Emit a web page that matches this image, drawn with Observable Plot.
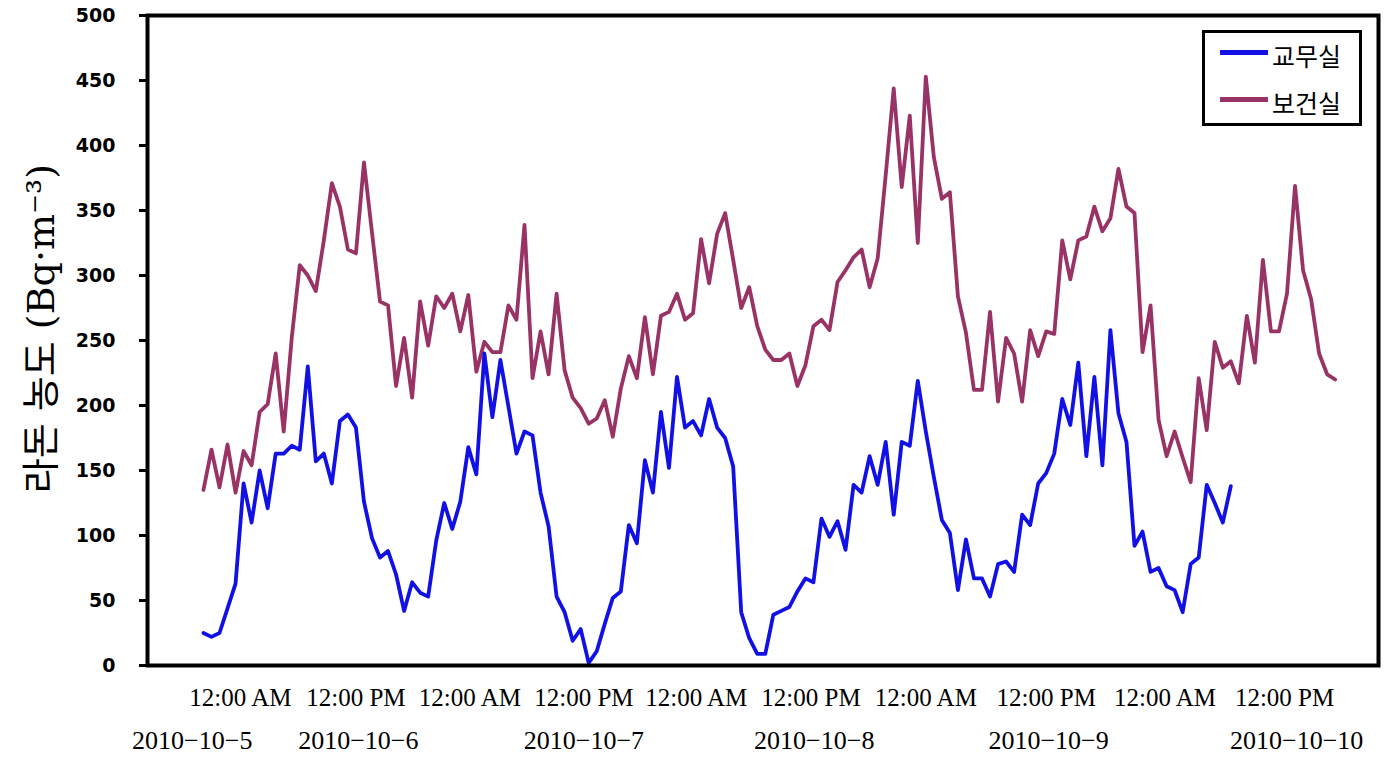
<!DOCTYPE html>
<html><head><meta charset="utf-8">
<script src="https://cdn.jsdelivr.net/npm/d3@7"></script>
<script src="https://cdn.jsdelivr.net/npm/@observablehq/plot@0.6"></script>
<style>
html,body{margin:0;padding:0;background:#fff;}
#wrap{position:relative;width:1396px;height:763px;overflow:hidden;}
#legend{position:absolute;left:1202px;top:30px;width:154px;height:90px;border:3.5px solid #000;background:#fff;}
.lg-line{position:absolute;left:15px;width:48px;height:4.5px;}
.lg-text{position:absolute;left:67px;height:30px;line-height:30px;font-family:"Noto Sans CJK KR",sans-serif;font-size:25px;color:#000;}
svg g[aria-label="y-axis tick label"]{font-weight:bold;}
</style></head><body>
<div id="wrap"><div id="chart"></div><div id="legend"></div></div>
<script>
const seriesNames = ["교무실", "보건실"];
const seriesColors = ["#1111E6", "#993366"];

// 교무실 (hourly readings, Bq·m-3)
const office = [25,22,25,44,63,140,110,150,121,163,163,169,166,230,157,163,140,188,193,183,
126,98,83,88,70,42,64,56,53,96,125,105,126,168,147,240,191,235,199,163,
180,177,133,107,53,41,19,28,2,11,32,52,57,108,94,158,133,195,152,222,
183,188,177,205,183,175,153,41,21,9,9,39,42,45,57,67,64,113,99,111,
89,139,133,161,139,172,116,172,169,219,180,145,112,102,58,97,67,67,53,78,
80,72,116,108,140,148,163,205,185,233,161,222,154,258,194,172,92,103,72,75,
61,58,41,78,83,139,125,110,138];

// 보건실
const health = [135,166,137,170,133,165,154,195,201,240,180,252,308,300,288,327,371,353,320,317,
387,333,280,277,215,252,206,280,246,284,275,286,257,285,226,249,241,241,277,266,
339,221,257,224,286,227,206,198,186,190,204,176,213,238,221,268,224,269,272,286,
266,271,328,294,332,348,312,275,291,261,243,235,235,240,215,231,261,266,258,295,
304,314,320,291,313,377,444,368,423,325,453,391,359,364,284,256,212,212,272,203,
252,240,203,258,238,257,255,327,297,327,330,353,334,344,382,353,348,241,277,189,
161,180,160,141,221,181,249,229,234,217,269,233,312,257,257,286,369,304,282,240,
224,220];

const timeTickLabels = ["12:00 AM","12:00 PM","12:00 AM","12:00 PM","12:00 AM","12:00 PM","12:00 AM","12:00 PM","12:00 AM","12:00 PM"];
const timeTickAt = [4.6, 19.0, 33.2, 47.4, 61.4, 75.7, 90.0, 105.0, 119.8, 134.7];
const dateTickLabels = ["2010−10−5","2010−10−6","2010−10−7","2010−10−8","2010−10−9","2010−10−10"];
const dateTickAt = [-1.4, 19.3, 47.4, 76.1, 105.3, 136.2];
const yTicks = [0,50,100,150,200,250,300,350,400,450,500];
const yTitle = "라돈 농도 (Bq·m⁻³)";

const rows = [];
health.forEach((v, i) => rows.push({series: seriesNames[1], t: i, v}));
office.forEach((v, i) => rows.push({series: seriesNames[0], t: i, v}));
const timeTicks = timeTickLabels.map((label, i) => ({label, at: timeTickAt[i]}));
const dateTicks = dateTickLabels.map((label, i) => ({label, at: dateTickAt[i]}));

const chart = Plot.plot({
  width: 1396, height: 763,
  marginLeft: 147, marginRight: 18, marginTop: 15, marginBottom: 98,
  x: {type: "linear", domain: [-6.97, 146.4], axis: null},
  y: {domain: [0, 500], axis: null},
  color: {domain: seriesNames, range: seriesColors},
  marks: [
    Plot.line(rows, {x: "t", y: "v", z: "series", stroke: "series", strokeWidth: 3.8, strokeLinejoin: "round", strokeLinecap: "round"}),
    Plot.frame({stroke: "#000", strokeWidth: 4}),
    Plot.axisY(yTicks, {anchor: "left", label: null, tickSize: 8, tickPadding: 24, strokeWidth: 3, fontSize: 19, fontWeight: "bold", fontFamily: "DejaVu Sans", fill: "#000", stroke: "#000", tickFormat: d => String(d)}),
    Plot.text(timeTicks, {x: "at", text: "label", frameAnchor: "bottom", dy: 32, fontSize: 25, fontFamily: "Liberation Serif", fill: "#000", lineAnchor: "middle"}),
    Plot.text(dateTicks, {x: "at", text: "label", frameAnchor: "bottom", dy: 75, fontSize: 26, fontFamily: "Liberation Serif", fill: "#000", lineAnchor: "middle"}),
    Plot.text([yTitle], {text: d => d, frameAnchor: "left", rotate: -90, dx: -106, dy: -12, fontSize: 38, fontFamily: "DejaVu Serif, Noto Sans CJK KR", fill: "#000", lineAnchor: "middle", textAnchor: "middle"})
  ]
});
document.getElementById("chart").appendChild(chart);

const legend = document.getElementById("legend");
const legendTops = [19.5, 66.5];
seriesNames.forEach((name, i) => {
  const ln = document.createElement("div");
  ln.className = "lg-line";
  ln.style.top = (legendTops[i] - 2.25) + "px";
  ln.style.background = seriesColors[i];
  legend.appendChild(ln);
  const tx = document.createElement("div");
  tx.className = "lg-text";
  tx.style.top = (legendTops[i] - 15 + 2) + "px";
  tx.textContent = name;
  legend.appendChild(tx);
});
</script>
</body></html>
